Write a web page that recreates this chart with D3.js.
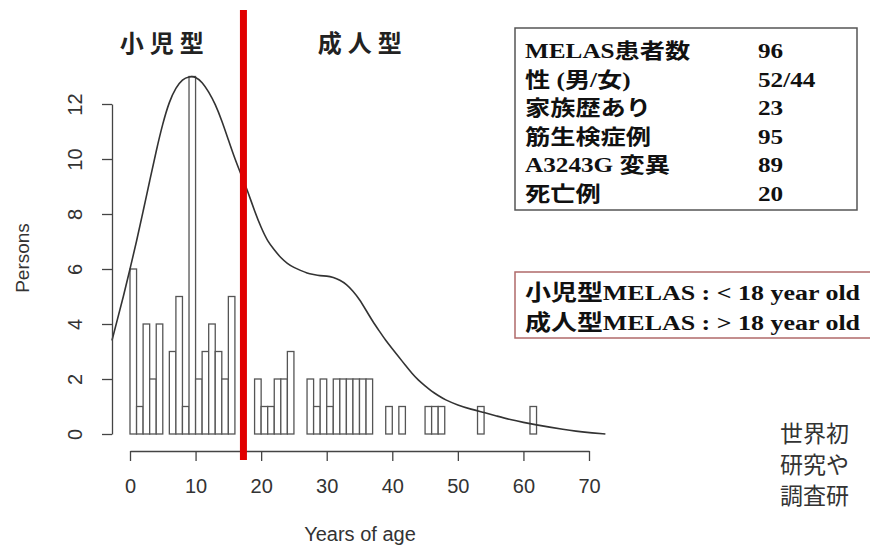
<!DOCTYPE html>
<html><head><meta charset="utf-8">
<script src="https://cdn.jsdelivr.net/npm/d3@7"></script>
<style>
html,body{margin:0;padding:0;background:#fff;}
svg{display:block;}
</style></head>
<body>
<svg id="chart" width="870" height="549"></svg>
<script>
// ---- data ----
const binStart = [0,1,2,3,4,6,7,8,9,10,11,12,13,14,15,19,20,21,22,23,24,27,28,29,30,31,32,33,34,35,36,39,41,45,46,47,53,61];
const persons  = [6,1,4,2,4,3,5,1,13,2,3,4,3,2,5,2,1,1,2,2,3,2,1,2,1,2,2,2,2,2,2,1,1,1,1,1,1,1];
const densityAge   = [-2.75,-2,-1,0,1,2,3,4,5,6,7,8,9,10,11,12,13,14,15,16,17,18,19,20,21,22,23,24,25,26,27,28,29,30,31,32,33,34,35,36,37,38,39,40,41,42,43,44,45,46,47,48,50,52,54,56,58,60,62,64,66,68,70,72.5];
const densityValue = [3.4,4.1,5.0,6.0,7.0,8.1,9.2,10.3,11.3,12.1,12.6,12.9,13.0,13.0,12.8,12.45,12.0,11.4,10.7,10.0,9.4,8.8,8.1,7.5,7.0,6.7,6.4,6.2,6.05,5.95,5.85,5.8,5.75,5.75,5.7,5.6,5.45,5.2,4.9,4.5,4.1,3.75,3.4,3.1,2.8,2.5,2.2,1.95,1.75,1.55,1.4,1.25,1.05,0.9,0.78,0.65,0.52,0.42,0.33,0.25,0.17,0.1,0.05,0.0];
const xTicks = [0,10,20,30,40,50,60,70];
const yTicks = [0,2,4,6,8,10,12];
const cutoffAge = 17.3;
const groupLabels = ["小児型","成人型"];
const groupLabelAge = [5.3,35.5];
const infoLabels = ["MELAS患者数","性 (男/女)","家族歴あり","筋生検症例","A3243G 変異","死亡例"];
const infoValues = ["96","52/44","23","95","89","20"];
const defLines = ["小児型MELAS : < 18 year old","成人型MELAS : > 18 year old"];
const sideText = ["世界初","研究や","調査研"];

const svg = d3.select("#chart");
const x = d3.scaleLinear().domain([0,70]).range([130,589]);
const y = d3.scaleLinear().domain([0,12]).range([434,104]);
const axisColor = "#444";
const textColor = "#333";
const sansFont = "'Liberation Sans', Arial, sans-serif";

// bars
svg.append("g").selectAll("rect").data(binStart).join("rect")
  .attr("x", d => x(d))
  .attr("y", (d,i) => y(persons[i]))
  .attr("width", d => x(d+1) - x(d))
  .attr("height", (d,i) => y(0) - y(persons[i]))
  .attr("fill", "#fff")
  .attr("stroke", "#555")
  .attr("stroke-width", 1.3);

// density curve
const line = d3.line().x(d => x(d[0])).y(d => y(d[1])).curve(d3.curveBasis);
svg.append("path")
  .datum(densityAge.map((a,i) => [a, densityValue[i]]))
  .attr("d", line)
  .attr("fill", "none")
  .attr("stroke", "#333")
  .attr("stroke-width", 1.6);

// y axis
const yAxis = d3.axisLeft(y).tickValues(yTicks).tickSize(10).tickSizeOuter(0).tickFormat(d3.format("d"));
const gy = svg.append("g").attr("transform", "translate(112,0)").call(yAxis);
gy.select(".domain").attr("stroke", axisColor).attr("stroke-width", 1.3);
gy.selectAll(".tick line").attr("stroke", axisColor).attr("stroke-width", 1.3);
gy.selectAll(".tick text")
  .attr("x", null).attr("dy", null)
  .attr("transform", "translate(-30,0) rotate(-90)")
  .attr("text-anchor", "middle")
  .attr("fill", textColor)
  .style("font-family", sansFont).style("font-size", "20px");

// x axis
const xAxis = d3.axisBottom(x).tickValues(xTicks).tickSize(10).tickSizeOuter(0);
const gx = svg.append("g").attr("transform", "translate(0,451)").call(xAxis);
gx.select(".domain").attr("stroke", axisColor).attr("stroke-width", 1.3);
gx.selectAll(".tick line").attr("stroke", axisColor).attr("stroke-width", 1.3);
gx.selectAll(".tick text")
  .attr("y", 42).attr("dy", null)
  .attr("fill", textColor)
  .style("font-family", sansFont).style("font-size", "20px");

// axis titles
svg.append("text").attr("transform", "translate(29,258) rotate(-90)")
  .attr("text-anchor", "middle").attr("fill", textColor)
  .style("font-family", sansFont).style("font-size", "19px").text("Persons");
svg.append("text").attr("x", 360).attr("y", 541)
  .attr("text-anchor", "middle").attr("fill", textColor)
  .style("font-family", sansFont).style("font-size", "20px").text("Years of age");

// red cutoff line
svg.append("line")
  .attr("x1", x(cutoffAge)).attr("x2", x(cutoffAge))
  .attr("y1", 10).attr("y2", 460)
  .attr("stroke", "#e10000").attr("stroke-width", 7);

// group labels
svg.append("g").selectAll("text").data(groupLabels).join("text")
  .attr("x", (d,i) => x(groupLabelAge[i]))
  .attr("y", 52)
  .attr("text-anchor", "middle")
  .attr("fill", "#222")
  .style("font-family", "'Noto Sans CJK JP', sans-serif")
  .style("font-weight", 700)
  .style("font-size", "24px")
  .style("letter-spacing", "6px")
  .text(d => d);

// info box
const serif = "'Liberation Serif', 'Times New Roman', serif";
svg.append("rect").attr("x", 515).attr("y", 28).attr("width", 342).attr("height", 182)
  .attr("fill", "#fff").attr("stroke", "#555").attr("stroke-width", 1.5);
const cjkRe = /([\u3000-\u9fff\uff00-\uffef]+)/;
function richText(sel, str, latinSize, cjkSize) {
  str.split(cjkRe).filter(s => s.length).forEach(part => {
    const isCjk = cjkRe.test(part);
    sel.append("tspan").text(part)
      .style("font-family", isCjk ? "'Noto Sans CJK JP', sans-serif" : serif)
      .style("font-size", (isCjk ? cjkSize : latinSize) + "px");
  });
}
const infoG = svg.append("g").attr("transform", "translate(525,0) scale(1.2,1)");
infoLabels.forEach((lab, i) => {
  const t = infoG.append("text").attr("x", 0).attr("y", 58 + i*28.6)
    .attr("fill", "#111").style("font-weight", 700);
  richText(t, lab, 21, 21);
  infoG.append("text").attr("x", (758-525)/1.2).attr("y", 58 + i*28.6)
    .attr("fill", "#111").style("font-weight", 700)
    .style("font-family", serif).style("font-size", "21px").text(infoValues[i]);
});

// definition box
svg.append("rect").attr("x", 515).attr("y", 272).attr("width", 400).attr("height", 66)
  .attr("fill", "#fff").attr("stroke", "#b06a6a").attr("stroke-width", 1.5);
const defG = svg.append("g").attr("transform", "translate(525,0) scale(1.18,1)");
defLines.forEach((s, i) => {
  const t = defG.append("text").attr("x", 0).attr("y", 300 + i*30)
    .attr("fill", "#111").style("font-weight", 700);
  richText(t, s, 22, 22);
});

// side text (one text block, one line per row)
const side = svg.append("text")
  .attr("fill", "#333")
  .style("font-family", "'Noto Sans CJK JP', sans-serif")
  .style("font-size", "23px");
side.selectAll("tspan").data(sideText).join("tspan")
  .attr("x", 780)
  .attr("y", (d,i) => 442 + i*31)
  .text(d => d);
</script>
</body></html>
